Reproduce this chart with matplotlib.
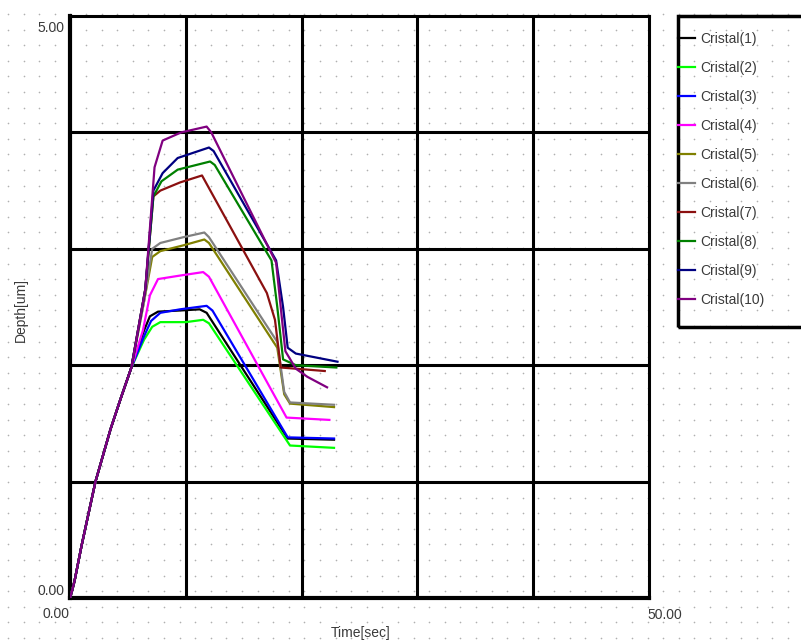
import numpy as np
import matplotlib
matplotlib.use("Agg")
import matplotlib.pyplot as plt

plt.rcParams['font.family'] = ['Liberation Sans', 'DejaVu Sans']

# common loading segment (time in sec, depth in um)
load_t = [0, 0.2, 0.4, 0.7, 1.0, 1.5, 2.2, 3.5, 4.4, 5.3]
load_d = [0, 0.07, 0.15, 0.30, 0.45, 0.68, 1.0, 1.45, 1.72, 1.98]

labels = ['Cristal(1)', 'Cristal(2)', 'Cristal(3)', 'Cristal(4)', 'Cristal(5)',
          'Cristal(6)', 'Cristal(7)', 'Cristal(8)', 'Cristal(9)', 'Cristal(10)']
colors = ['#000000', '#00ff00', '#0000ff', '#ff00ff', '#808000',
          '#808080', '#8b1010', '#008000', '#000080', '#800080']

# rest of each curve after the common loading part
rest_t = [
    [6.4, 6.9, 7.6, 9.5, 11.2, 11.8, 18.8, 22.8],
    [6.4, 7.1, 7.8, 10.0, 11.5, 12.0, 19.0, 22.8],
    [6.4, 7.0, 7.8, 9.5, 11.8, 12.3, 18.8, 22.8],
    [6.3, 6.9, 7.6, 9.5, 11.5, 12.0, 18.7, 22.4],
    [6.4, 7.1, 7.8, 9.8, 11.6, 12.0, 17.9, 18.5, 19.0, 22.8],
    [6.4, 7.1, 7.8, 9.8, 11.6, 12.0, 17.9, 18.5, 19.0, 22.8],
    [6.5, 7.2, 7.8, 9.5, 11.4, 17.0, 17.7, 18.2, 19.5, 22.0],
    [6.5, 7.2, 7.9, 9.3, 12.1, 12.5, 17.4, 17.9, 18.4, 19.5, 23.0],
    [6.5, 7.2, 8.0, 9.3, 12.0, 12.4, 17.8, 18.4, 18.8, 19.5, 23.1],
    [6.5, 7.3, 8.0, 9.6, 11.8, 12.2, 17.8, 18.3, 18.6, 19.5, 20.5, 22.2],
]
rest_d = [
    [2.30, 2.42, 2.46, 2.47, 2.48, 2.45, 1.37, 1.36],
    [2.22, 2.33, 2.37, 2.37, 2.39, 2.36, 1.31, 1.29],
    [2.25, 2.38, 2.45, 2.48, 2.51, 2.47, 1.38, 1.37],
    [2.30, 2.60, 2.74, 2.77, 2.80, 2.76, 1.55, 1.53],
    [2.55, 2.93, 2.98, 3.03, 3.08, 3.05, 2.15, 1.75, 1.67, 1.64],
    [2.55, 3.00, 3.05, 3.10, 3.14, 3.10, 2.20, 1.77, 1.68, 1.66],
    [2.65, 3.45, 3.50, 3.57, 3.63, 2.62, 2.39, 1.98, 1.97, 1.95],
    [2.65, 3.45, 3.58, 3.68, 3.75, 3.72, 2.90, 2.50, 2.05, 2.00, 1.98],
    [2.65, 3.50, 3.65, 3.78, 3.87, 3.84, 2.90, 2.50, 2.15, 2.10, 2.03],
    [2.65, 3.70, 3.93, 4.00, 4.05, 4.00, 2.88, 2.40, 2.12, 1.97, 1.90, 1.81],
]

W, H = 801, 644
fig = plt.figure(figsize=(W / 100, H / 100), dpi=100)

# dotted background over the whole picture
bg = fig.add_axes([0, 0, 1, 1], zorder=0)
bg.set_xlim(0, W)
bg.set_ylim(H, 0)
bg.axis('off')
gx, gy = np.meshgrid(np.arange(8, W, 15.6), np.arange(14, H, 15.6))
bg.scatter(gx.ravel(), gy.ravel(), s=1.4, c='#b0b0b0', linewidths=0)

x0, x1, y0, y1 = 70, 649, 16, 598
ax = fig.add_axes([x0 / W, 1 - y1 / H, (x1 - x0) / W, (y1 - y0) / H], zorder=1)
ax.set_facecolor('none')
ax.set_xlim(0, 50)
ax.set_ylim(0, 5)
ax.set_xticks([])
ax.set_yticks([])
for xv in [10, 20, 30, 40]:
    ax.axvline(xv, color='black', lw=2.2, zorder=1)
for yv in [1, 2, 3, 4]:
    ax.axhline(yv, color='black', lw=2.2, zorder=1)
for side, sp in ax.spines.items():
    sp.set_linewidth(3 if side in ('left', 'bottom') else 2.2)

handles = []
for i in range(10):
    t = load_t + rest_t[i]
    d = load_d + rest_d[i]
    h, = ax.plot(t, d, color=colors[i], lw=1.6, zorder=3, label=labels[i])
    handles.append(h)

tc = '#3a3a3a'
fs = 10
ax.text(-0.5, 4.9, '5.00', ha='right', va='center', fontsize=fs, color=tc)
ax.text(-0.5, 0.06, '0.00', ha='right', va='center', fontsize=fs, color=tc)
ax.text(-1.2, -0.14, '0.00', ha='center', va='center', fontsize=fs, color=tc)
ax.text(51.4, -0.15, '50.00', ha='center', va='center', fontsize=fs, color=tc)
fig.text(21 / W, 1 - 310 / H, 'Depth[um]', rotation=90, ha='center', va='center', fontsize=fs, color=tc)
fig.text(361 / W, 1 - 633 / H, 'Time[sec]', ha='center', va='center', fontsize=fs, color=tc)

# legend box (runs off the right edge)
box = plt.Rectangle((678 / W, 1 - 327 / H), 140 / W, 311 / H, transform=fig.transFigure,
                    fill=False, edgecolor='black', lw=2.5, zorder=2)
fig.add_artist(box)
leg = fig.legend(handles=handles, loc='upper left', bbox_to_anchor=(672 / W, 1 - 26 / H),
                 frameon=False, fontsize=fs, handlelength=1.25, handletextpad=0.36,
                 labelspacing=1.08, borderaxespad=0)
for txt in leg.get_texts():
    txt.set_color(tc)

fig.savefig('out.png', dpi=100)
